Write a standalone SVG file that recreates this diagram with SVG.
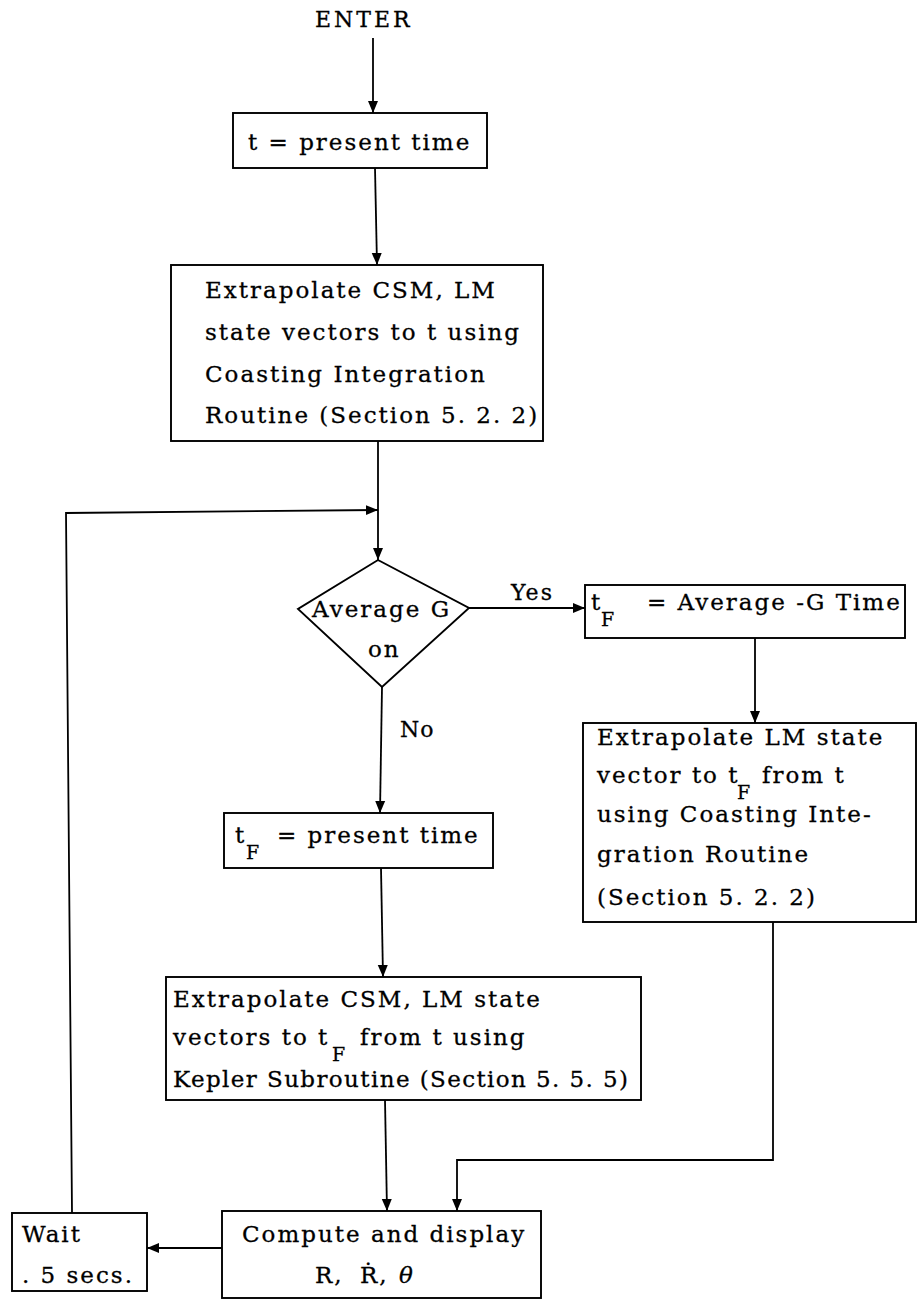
<svg xmlns="http://www.w3.org/2000/svg" width="920" height="1300" viewBox="0 0 920 1300">
<style>
  .box { fill: none; stroke: #000; stroke-width: 1.9; }
  .ln { fill: none; stroke: #000; stroke-width: 1.8; }
  text { font-family: 'DejaVu Serif', 'Liberation Serif', serif; font-size: 23px; fill: #000; stroke: #000; stroke-width: 0.3; letter-spacing: 2px; }
  .sub { font-size: 19px; letter-spacing: 0; }
  .lbl { font-size: 22px; }
</style>
<defs>
  <marker id="ah" markerUnits="userSpaceOnUse" markerWidth="13" markerHeight="11" refX="12" refY="5.5" orient="auto">
    <path d="M0,0.5 L12,5.5 L0,10.5 z" fill="#000"/>
  </marker>
</defs>
<rect width="920" height="1300" fill="#fff"/>

<g id="connectors">
  <line class="ln" x1="373" y1="38" x2="373" y2="113" marker-end="url(#ah)"/>
  <line class="ln" x1="375" y1="168" x2="377" y2="265" marker-end="url(#ah)"/>
  <line class="ln" x1="378" y1="441" x2="378" y2="560" marker-end="url(#ah)"/>
  <polyline class="ln" points="72,1213 66,513 378,510" marker-end="url(#ah)"/>
  <line class="ln" x1="469" y1="608" x2="585" y2="608" marker-end="url(#ah)"/>
  <line class="ln" x1="755" y1="638" x2="755" y2="723" marker-end="url(#ah)"/>
  <line class="ln" x1="382" y1="687" x2="380" y2="813" marker-end="url(#ah)"/>
  <line class="ln" x1="381" y1="868" x2="383" y2="977" marker-end="url(#ah)"/>
  <line class="ln" x1="385" y1="1100" x2="387" y2="1211" marker-end="url(#ah)"/>
  <polyline class="ln" points="773,922 773,1160 457,1160 457,1211" marker-end="url(#ah)"/>
  <line class="ln" x1="222" y1="1248" x2="147" y2="1248" marker-end="url(#ah)"/>
  <text class="lbl" x="511" y="600">Yes</text>
  <text class="lbl" x="400" y="737" style="letter-spacing:1px">No</text>
</g>

<g id="enter">
  <text x="315" y="27" style="font-size:22px;letter-spacing:3px">ENTER</text>
</g>

<g id="set-t">
  <rect class="box" x="233" y="113" width="254" height="55"/>
  <text x="248" y="150">t = present time</text>
</g>

<g id="extrapolate-csm-lm">
  <rect class="box" x="171" y="265" width="372" height="176"/>
  <text x="205" y="298">Extrapolate CSM, LM</text>
  <text x="205" y="340">state vectors to t using</text>
  <text x="205" y="382">Coasting Integration</text>
  <text x="205" y="423">Routine (Section 5. 2. 2)</text>
</g>

<g id="decision-average-g">
  <polygon class="box" points="378,560 469,608 382,687 298,609"/>
  <text x="312" y="617">Average G</text>
  <text x="368" y="657">on</text>
</g>

<g id="tf-average-g">
  <rect class="box" x="585" y="585" width="320" height="53"/>
  <text x="591" y="610">t</text>
  <text class="sub" x="601" y="626">F</text>
  <text x="647" y="610">= Average -G Time</text>
</g>

<g id="extrapolate-lm">
  <rect class="box" x="583" y="723" width="333" height="199"/>
  <text x="597" y="745">Extrapolate LM state</text>
  <text x="597" y="783">vector to t</text>
  <text class="sub" x="737" y="799">F</text>
  <text x="762" y="783">from t</text>
  <text x="597" y="822">using Coasting Inte-</text>
  <text x="597" y="862">gration Routine</text>
  <text x="597" y="905">(Section 5. 2. 2)</text>
</g>

<g id="tf-present">
  <rect class="box" x="224" y="813" width="269" height="55"/>
  <text x="235" y="843">t</text>
  <text class="sub" x="246" y="859">F</text>
  <text x="277" y="843">= present time</text>
</g>

<g id="extrapolate-kepler">
  <rect class="box" x="166" y="977" width="475" height="123"/>
  <text x="173" y="1007">Extrapolate CSM, LM state</text>
  <text x="173" y="1045">vectors to t</text>
  <text class="sub" x="332" y="1061">F</text>
  <text x="360" y="1045">from t using</text>
  <text x="173" y="1087" style="letter-spacing:1.4px">Kepler Subroutine (Section 5. 5. 5)</text>
</g>

<g id="compute-display">
  <rect class="box" x="222" y="1211" width="319" height="87"/>
  <text x="242" y="1242">Compute and display</text>
  <text y="1283"><tspan x="315">R,</tspan><tspan x="360">Ṙ,</tspan><tspan x="399" font-style="italic">θ</tspan></text>
</g>

<g id="wait">
  <rect class="box" x="12" y="1213" width="135" height="78"/>
  <text x="22" y="1242">Wait</text>
  <text x="22" y="1283">. 5 secs.</text>
</g>
</svg>
